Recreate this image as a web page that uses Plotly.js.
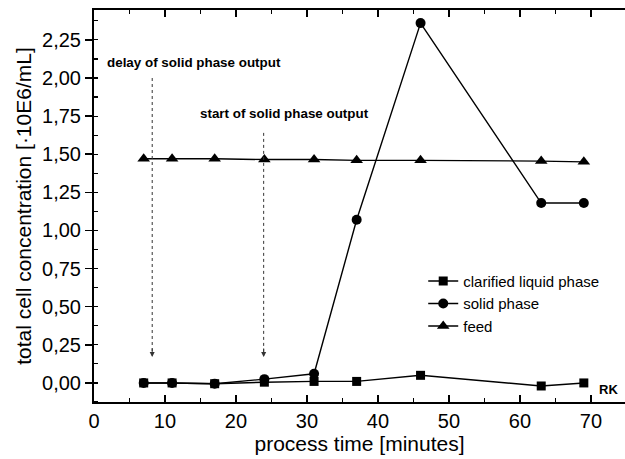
<!DOCTYPE html>
<html><head><meta charset="utf-8">
<script src="https://cdn.plot.ly/plotly-3.0.1.min.js"></script>
<style>body{margin:0;padding:0;background:#fff}#c{width:625px;height:459px}</style>
</head><body><div id="c"></div>
<script>
const timeClarified = [7, 11, 17, 24, 31, 37, 46, 63, 69];
const clarified = [0.00, 0.00, -0.005, 0.005, 0.01, 0.01, 0.05, -0.02, 0.00];
const timeSolid = [7, 11, 17, 24, 31, 37, 46, 63, 69];
const solid = [0.00, 0.00, -0.005, 0.025, 0.06, 1.07, 2.36, 1.18, 1.18];
const timeFeed = [7, 11, 17, 24, 31, 37, 46, 63, 69];
const feed = [1.47, 1.47, 1.47, 1.465, 1.465, 1.46, 1.46, 1.455, 1.45];
const yTicks = [0, 0.25, 0.5, 0.75, 1.0, 1.25, 1.5, 1.75, 2.0, 2.25];
const xTicks = [0, 10, 20, 30, 40, 50, 60, 70];

const font = {family: 'Liberation Sans, Arial, sans-serif', color: '#000'};
const traces = [
  {x: timeClarified, y: clarified, name: 'clarified liquid phase', mode: 'lines+markers',
   line: {color: '#000', width: 1.4}, marker: {symbol: 'square', size: 9, color: '#000'}},
  {x: timeSolid, y: solid, name: 'solid phase', mode: 'lines+markers',
   line: {color: '#000', width: 1.4}, marker: {symbol: 'circle', size: 10, color: '#000'}},
  {x: timeFeed, y: feed, name: 'feed', mode: 'lines+markers',
   line: {color: '#000', width: 1.4}, marker: {symbol: 'triangle-up', size: 11, color: '#000'}}
];
const data = [traces[2], traces[1], traces[0]];

const layout = {
  width: 625, height: 459,
  margin: {l: 94, r: 0, t: 10, b: 57},
  paper_bgcolor: '#fff', plot_bgcolor: '#fff',
  separators: ', ',
  showlegend: true,
  legend: {x: 0.62, y: 0.35, xanchor: 'left', yanchor: 'top', traceorder: 'reversed',
    font: {...font, size: 15}, bgcolor: 'rgba(0,0,0,0)', tracegroupgap: 0},
  xaxis: {range: [0, 74.8], tickvals: xTicks, ticks: 'inside', ticklen: 7, tickwidth: 1.5,
    showline: true, linecolor: '#000', linewidth: 2, mirror: 'ticks', showgrid: false, zeroline: false,
    minor: {dtick: 5, ticks: 'inside', ticklen: 4, tickcolor: '#000', tickwidth: 1.2},
    tickcolor: '#000', tickfont: {...font, size: 20},
    title: {text: 'process time [minutes]', font: {...font, size: 21}, standoff: 0}},
  yaxis: {range: [-0.125, 2.446], tickvals: yTicks, tickformat: '.2f', ticks: 'outside', ticklen: 7, tickwidth: 1.5,
    showline: true, linecolor: '#000', linewidth: 2, mirror: false, showgrid: false, zeroline: false,
    minor: {dtick: 0.125, ticks: 'inside', ticklen: 4, tickcolor: '#000', tickwidth: 1.2},
    tickcolor: '#000', tickfont: {...font, size: 20},
    title: {text: 'total cell concentration [·10E6/mL]', font: {...font, size: 21}, standoff: 5}},
  shapes: [
    {type: 'line', x0: 8.2, x1: 8.2, y0: 2.0, y1: 0.2, line: {color: '#333', width: 1, dash: 'dot'}},
    {type: 'line', x0: 23.9, x1: 23.9, y0: 1.64, y1: 0.2, line: {color: '#333', width: 1, dash: 'dot'}}
  ],
  annotations: [
    {x: 8.2, y: 0.17, ax: 0, ay: -10, text: '', showarrow: true, arrowhead: 2, arrowsize: 1, arrowwidth: 1, arrowcolor: '#333'},
    {x: 23.9, y: 0.17, ax: 0, ay: -10, text: '', showarrow: true, arrowhead: 2, arrowsize: 1, arrowwidth: 1, arrowcolor: '#333'},
    {x: 1.5, y: 2.10, xanchor: 'left', yanchor: 'middle', showarrow: false,
     text: '<b>delay of solid phase output</b>', font: {...font, size: 13.4}},
    {x: 14.6, y: 1.767, xanchor: 'left', yanchor: 'middle', showarrow: false,
     text: '<b>start of solid phase output</b>', font: {...font, size: 13.4}},
    {x: 72.5, y: -0.04, xanchor: 'center', yanchor: 'middle', showarrow: false,
     text: '<b>RK</b>', font: {...font, size: 13}}
  ]
};
Plotly.newPlot('c', data, layout, {staticPlot: true});
</script></body></html>
